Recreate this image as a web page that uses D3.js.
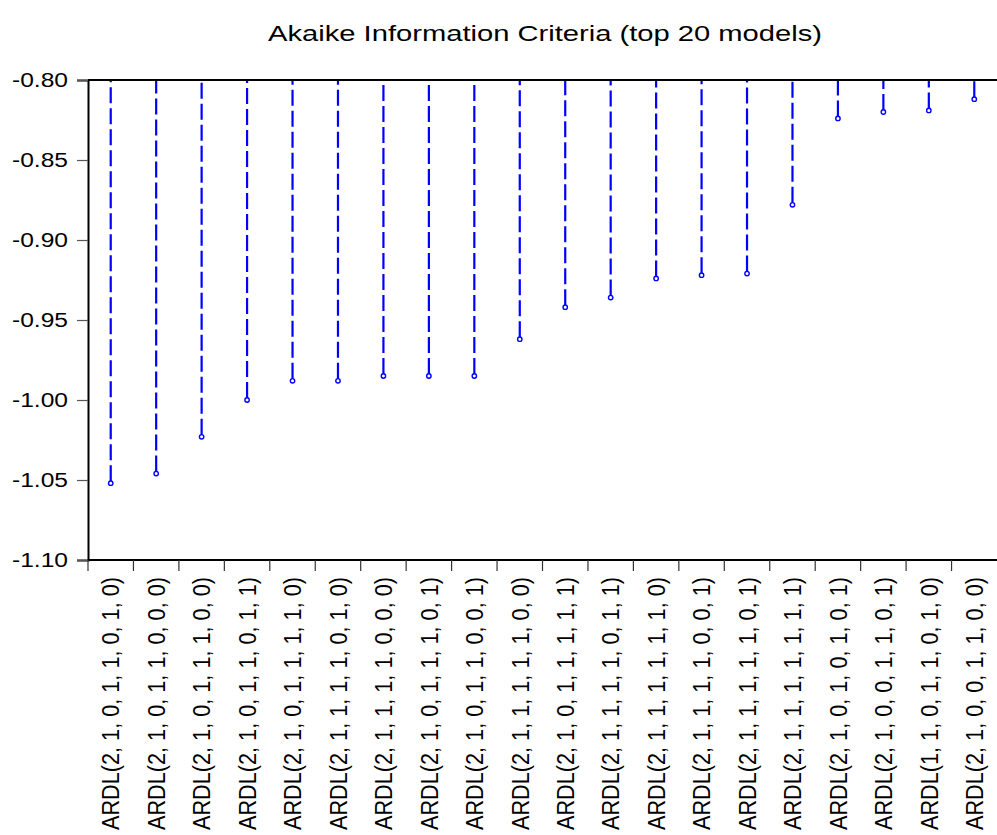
<!DOCTYPE html>
<html>
<head>
<meta charset="utf-8">
<script src="https://cdn.jsdelivr.net/npm/d3@7/dist/d3.min.js"></script>
<style>
  html, body { margin: 0; padding: 0; background: #fff; }
  svg { display: block; }
  text { font-family: "Liberation Sans", Arial, Helvetica, sans-serif; fill: #000; }
</style>
</head>
<body>
<svg id="chart" width="997" height="835"></svg>
<script>
const title = "Akaike Information Criteria (top 20 models)";
const models = [
  "ARDL(2, 1, 0, 1, 1, 0, 1, 0)",
  "ARDL(2, 1, 0, 1, 1, 0, 0, 0)",
  "ARDL(2, 1, 0, 1, 1, 1, 0, 0)",
  "ARDL(2, 1, 0, 1, 1, 0, 1, 1)",
  "ARDL(2, 1, 0, 1, 1, 1, 1, 0)",
  "ARDL(2, 1, 1, 1, 1, 0, 1, 0)",
  "ARDL(2, 1, 1, 1, 1, 0, 0, 0)",
  "ARDL(2, 1, 0, 1, 1, 1, 0, 1)",
  "ARDL(2, 1, 0, 1, 1, 0, 0, 1)",
  "ARDL(2, 1, 1, 1, 1, 1, 0, 0)",
  "ARDL(2, 1, 0, 1, 1, 1, 1, 1)",
  "ARDL(2, 1, 1, 1, 1, 0, 1, 1)",
  "ARDL(2, 1, 1, 1, 1, 1, 1, 0)",
  "ARDL(2, 1, 1, 1, 1, 0, 0, 1)",
  "ARDL(2, 1, 1, 1, 1, 1, 0, 1)",
  "ARDL(2, 1, 1, 1, 1, 1, 1, 1)",
  "ARDL(2, 1, 0, 1, 0, 1, 0, 1)",
  "ARDL(2, 1, 0, 0, 1, 1, 0, 1)",
  "ARDL(1, 1, 0, 1, 1, 0, 1, 0)",
  "ARDL(2, 1, 0, 0, 1, 1, 0, 0)"
];
const aic = [
  -1.052, -1.046, -1.023, -1.000, -0.988, -0.988, -0.985, -0.985, -0.985, -0.962,
  -0.942, -0.936, -0.924, -0.922, -0.921, -0.878, -0.824, -0.820, -0.819, -0.812
];
const yTicks = [-0.80, -0.85, -0.90, -0.95, -1.00, -1.05, -1.10];
const yDomain = [-1.10, -0.80];

const svg = d3.select("#chart");
const plotLeft = 88, plotRight = 997, plotTop = 80, plotBottom = 560;

const x = d3.scaleBand().domain(d3.range(models.length)).range([plotLeft, plotRight]).padding(0);
const y = d3.scaleLinear().domain(yDomain).range([plotBottom, plotTop]);

// title
svg.append("text")
  .attr("x", 268).attr("y", 41)
  .attr("font-size", 22)
  .attr("textLength", 554)
  .attr("lengthAdjust", "spacingAndGlyphs")
  .text(title);

// stems (drawn from the point up to the top, dashed)
const g = svg.append("g");
g.selectAll("line.stem").data(aic).enter().append("line")
  .attr("class", "stem")
  .attr("x1", (d, i) => x(i) + x.bandwidth() / 2)
  .attr("x2", (d, i) => x(i) + x.bandwidth() / 2)
  .attr("y1", d => y(d) - 2)
  .attr("y2", y(-0.80))
  .attr("stroke", "#0000ff")
  .attr("stroke-width", 2.2)
  .attr("stroke-dasharray", "16,5");

g.selectAll("circle.pt").data(aic).enter().append("circle")
  .attr("class", "pt")
  .attr("cx", (d, i) => x(i) + x.bandwidth() / 2)
  .attr("cy", d => y(d))
  .attr("r", 2.2)
  .attr("fill", "#fff")
  .attr("stroke", "#0000ff")
  .attr("stroke-width", 1.4);

// frame lines: top and bottom
svg.append("line").attr("x1", plotLeft).attr("x2", plotRight).attr("y1", y(-0.80)).attr("y2", y(-0.80))
  .attr("stroke", "#000").attr("stroke-width", 2);
svg.append("line").attr("x1", plotLeft).attr("x2", plotRight).attr("y1", y(-1.10)).attr("y2", y(-1.10))
  .attr("stroke", "#000").attr("stroke-width", 2);

// y axis
const yAxis = d3.axisLeft(y).tickValues(yTicks).tickSize(11).tickPadding(9)
  .tickFormat(d3.format(".2f"));
const yg = svg.append("g").attr("transform", `translate(${plotLeft},0)`).call(yAxis);
yg.select(".domain").attr("stroke", "#000").attr("stroke-width", 2);
yg.selectAll(".tick line").attr("stroke", "#555").attr("stroke-width", 1.2);
yg.selectAll(".tick text")
  .attr("font-size", 20)
  .attr("font-family", "'Liberation Sans', Arial, sans-serif")
  .attr("fill", "#000")
  .attr("textLength", 56)
  .attr("lengthAdjust", "spacingAndGlyphs")
  .text(d => d3.format(".2f")(d).replace("−", "-"));

// x axis ticks at band edges
const xEdges = d3.range(models.length).map(i => x(i));
svg.append("g").selectAll("line").data(xEdges).enter().append("line")
  .attr("x1", d => d).attr("x2", d => d)
  .attr("y1", plotBottom).attr("y2", plotBottom + 11)
  .attr("stroke", "#333").attr("stroke-width", 1.2);

// rotated category labels
svg.append("g").selectAll("text").data(models).enter().append("text")
  .attr("transform", (d, i) => `translate(${x(i) + x.bandwidth() / 2},577) scale(1.12,1) rotate(-90)`)
  .attr("text-anchor", "end")
  .attr("dy", "0.36em")
  .attr("font-size", 21.7)
  .text(d => d);
</script>
</body>
</html>
